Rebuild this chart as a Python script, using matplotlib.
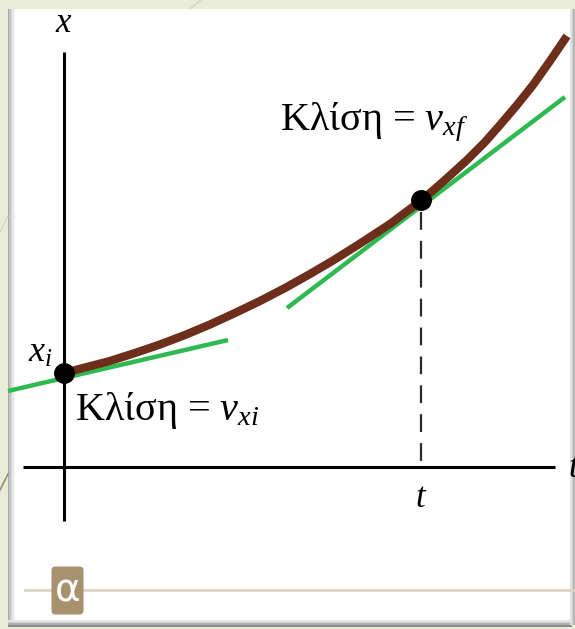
import matplotlib.pyplot as plt
from matplotlib.patches import Rectangle, FancyBboxPatch

plt.rcParams['mathtext.fontset'] = 'custom'
plt.rcParams['mathtext.rm'] = 'Liberation Serif'
plt.rcParams['mathtext.it'] = 'Liberation Serif:italic'

# position x(t) along the curve (arbitrary units, origin at the axes crossing)
t_curve = [0.00, 0.21, 0.46, 0.71, 0.96, 1.21, 1.46, 1.71, 1.96, 2.21, 2.46,
           2.69, 2.93, 3.26, 3.58, 3.81, 4.03, 4.21, 4.36, 4.53, 4.69, 4.86, 5.03]
x_curve = [0.94, 0.995, 1.06, 1.14, 1.225, 1.32, 1.425, 1.54, 1.66, 1.79, 1.93,
           2.065, 2.215, 2.43, 2.67, 2.87, 3.07, 3.25, 3.42, 3.62, 3.82, 4.06, 4.31]

# the two marked instants
t_pts = [0.00, 3.57]
x_pts = [0.94, 2.67]

# tangent segments (slope v_xi at t=0, slope v_xf at t)
tan_i_t = [-0.56, 1.64]
tan_i_x = [0.76, 1.27]
tan_f_t = [2.23, 5.01]
tan_f_x = [1.59, 3.70]

label_i = 'Κλίση = $v_{xi}$'
label_f = 'Κλίση = $v_{xf}$'
panel_tag = 'α'

brown = '#6d2f1b'
green = '#2fb951'

fig = plt.figure(figsize=(5.75, 6.29), dpi=100)
fig.patch.set_facecolor('#e9ecd8')

# page background: white card with soft grey edges
bg = fig.add_axes([0, 0, 1, 1])
bg.set_xlim(0, 575)
bg.set_ylim(629, 0)
bg.axis('off')
bg.plot([0, 8], [490, 474], color='#9c8e6c', lw=1.2)
bg.plot([0, 8], [232, 216], color='#d6dac2', lw=1.0)
bg.plot([201, 190], [0, 9], color='#d3d7bf', lw=1.0)
bg.add_patch(Rectangle((8, 9), 564, 617, facecolor='white', edgecolor='none'))
for i, c in enumerate(['#a9a9a9', '#c4c4c4', '#d8d8d8', '#e8e8e8', '#f3f3f3']):
    bg.add_patch(Rectangle((8 + 1.4 * i, 9), 1.4, 615, facecolor=c, edgecolor='none'))
for i, c in enumerate(['#8e8e8e', '#b0b0b0', '#d0d0d0', '#e6e6e6']):
    bg.add_patch(Rectangle((8, 625 - 1.6 * i), 564, 1.6, facecolor=c, edgecolor='none'))
for i, c in enumerate(['#b8b8b8', '#cdcdcd', '#e2e2e2']):
    bg.add_patch(Rectangle((573 - 1.5 * i, 9), 1.5, 616, facecolor=c, edgecolor='none'))

# figure tag at the bottom
bg.plot([25, 575], [590, 590], color='#ddd3c7', lw=2, zorder=2)
bg.add_patch(FancyBboxPatch((53, 568), 29, 45, boxstyle='round,pad=1.5,rounding_size=4',
                            facecolor='#a8916f', edgecolor='none', zorder=3))
bg.text(67.5, 590, panel_tag, color='white', fontsize=28, family='DejaVu Sans',
        ha='center', va='center', zorder=4)

# x-t diagram
ax = fig.add_axes([0, 0, 1, 1], zorder=2)
ax.set_xlim(-0.64, 5.11)
ax.set_ylim(-1.62, 4.67)
ax.patch.set_alpha(0)
ax.axis('off')

ax.plot([0, 0], [-0.54, 4.15], color='black', lw=2.2, solid_capstyle='butt')
ax.plot([-0.41, 4.91], [0, 0], color='black', lw=2.2, solid_capstyle='butt')

ax.plot([t_pts[1], t_pts[1]], [x_pts[1] - 0.12, 0], color='#2a2a2a', lw=1.6,
        dashes=(8, 5))

ax.plot(tan_i_t, tan_i_x, color=green, lw=3.2, solid_capstyle='butt', zorder=3)
ax.plot(tan_f_t, tan_f_x, color=green, lw=3.2, solid_capstyle='butt', zorder=3)
ax.plot(t_curve, x_curve, color=brown, lw=6, solid_capstyle='butt',
        solid_joinstyle='round', zorder=4)
ax.plot(t_pts, x_pts, 'o', color='black', ms=14, zorder=5)

serif = 'Liberation Serif'
ax.text(0, 4.45, '$x$', fontsize=25, ha='center', va='center')
ax.text(-0.24, 1.15, '$x_i$', fontsize=26, ha='center', va='center')
ax.text(t_pts[1], -0.30, '$t$', fontsize=25, ha='center', va='center')
ax.text(5.04, 0.0, '$t$', fontsize=25, ha='left', va='center')
ax.text(0.11, 0.47, label_i, fontsize=29, family=serif, ha='left', va='baseline')
ax.text(2.16, 3.37, label_f, fontsize=29, family=serif, ha='left', va='baseline')

fig.savefig('out.png', dpi=100, facecolor=fig.get_facecolor())
